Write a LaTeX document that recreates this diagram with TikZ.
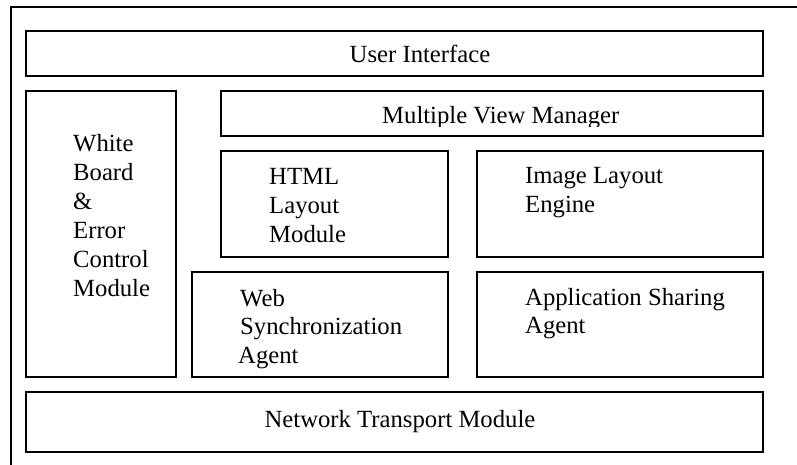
\documentclass[tikz,border=0pt]{standalone}
\usepackage{fontspec}
\setmainfont{Liberation Serif}
\usetikzlibrary{fit}

% multi-line label whose reference point is the baseline of its first line
\newcommand{\stacklines}[1]{\parbox[t]{300pt}{\raggedright\fontsize{24.7pt}{28.9pt}\selectfont #1}}

\tikzset{
  modbox/.style={draw=black, line width=1.6pt, inner sep=0pt, fit={#1}},
  label text/.style={inner sep=0pt, anchor=base west, font=\fontsize{24.7pt}{28.9pt}\selectfont},
  centre text/.style={inner sep=0pt, anchor=base, font=\fontsize{24.7pt}{28.9pt}\selectfont},
  frame line/.style={draw=black, line width=1.6pt}
}

\begin{document}
\begin{tikzpicture}[x=1pt, y=-1pt]
  \useasboundingbox (0,0) rectangle (797,465);

  % outer frame (only its top and left edges lie inside the page)
  \coordinate (frameTR) at (800,7);
  \coordinate (frameTL) at (11,7);
  \coordinate (frameBL) at (11,468);
  \draw[frame line] (frameTR) -- (frameTL) -- (frameBL);

  % module boxes
  \node[modbox={(26,31) (763,76)}]   (ui)   {};
  \node[modbox={(26,91) (176,377)}]  (wb)   {};
  \node[modbox={(221,91) (763,136)}] (mvm)  {};
  \node[modbox={(221,151) (448,257)}] (html) {};
  \node[modbox={(477,151) (763,257)}] (img)  {};
  \node[modbox={(192,272) (448,377)}] (web)  {};
  \node[modbox={(477,272) (763,377)}] (app)  {};
  \node[modbox={(26,392) (763,452)}] (net)  {};

  % labels
  \node[centre text] (uiT) at (420,63) {User Interface};
  \node[label text] (wbT) at (73,152) {\stacklines{White\\Board\\\&\\Error\\Control\\Module}};
  \begin{scope}
    \clip (222,92) rectangle (762,126.5);
    \node[label text] (mvmT) at (382,124) {Multiple View Manager};
  \end{scope}
  \node[label text] (htmlT) at (269,185) {\stacklines{HTML\\Layout\\Module}};
  \node[label text] (imgT) at (525,184) {\stacklines{Image Layout\\Engine}};
  \node[label text] (webT) at (240,306) {\stacklines{Web\\Synchronization\\\hspace*{-2pt}Agent}};
  \node[label text] (appT) at (525,305) {\stacklines{Application Sharing\\Agent}};
  \node[centre text] (netT) at (400,427) {Network Transport Module};
\end{tikzpicture}
\end{document}
